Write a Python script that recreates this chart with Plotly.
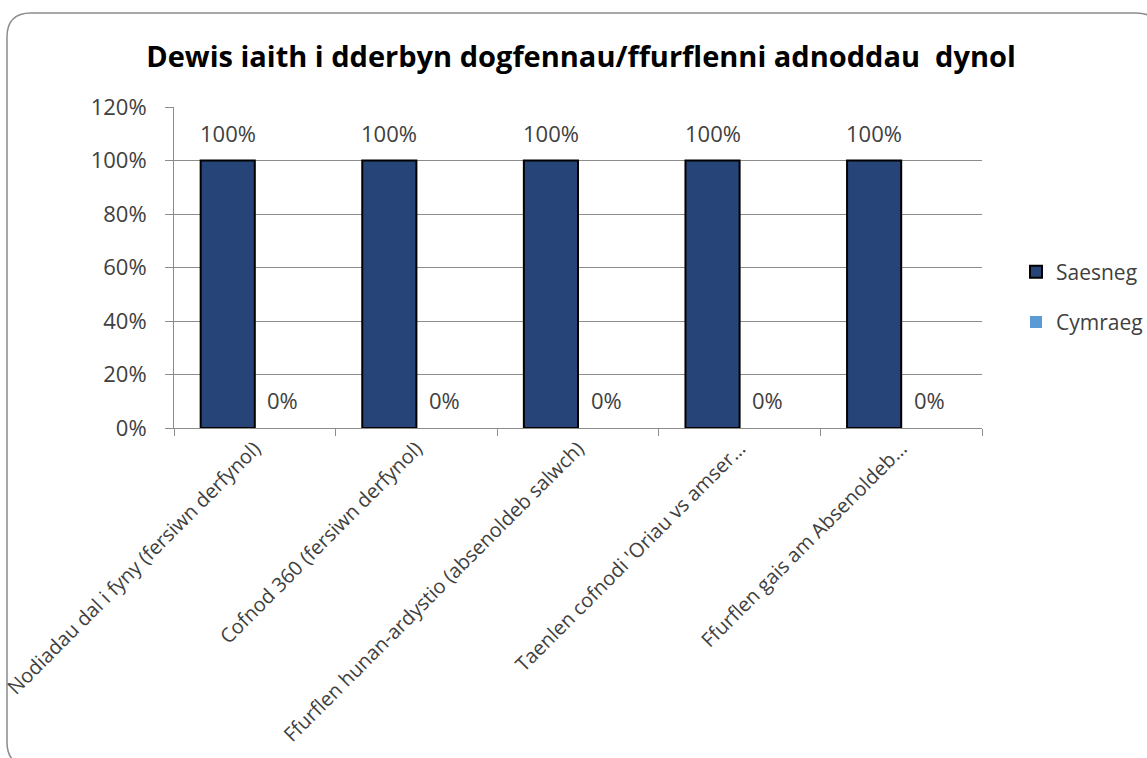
import plotly.graph_objects as go

categories = [
    "Nodiadau dal i fyny (fersiwn derfynol)",
    "Cofnod 360 (fersiwn derfynol)",
    "Ffurflen hunan-ardystio (absenoldeb salwch)",
    "Taenlen cofnodi 'Oriau vs amser…",
    "Ffurflen gais am Absenoldeb…",
]
saesneg = [1.0, 1.0, 1.0, 1.0, 1.0]
cymraeg = [0.0, 0.0, 0.0, 0.0, 0.0]
y_ticks = [0, 0.2, 0.4, 0.6, 0.8, 1.0, 1.2]
y_labels = ["0%", "20%", "40%", "60%", "80%", "100%", "120%"]

FONT = "Open Sans, Noto Sans, sans-serif"
TXT = "#404040"

fig = go.Figure()
fig.add_trace(go.Bar(
    name="Saesneg", x=categories, y=saesneg, legendgroup="s",
    marker=dict(color="#264478", line=dict(color="#000000", width=2)),
))
fig.add_trace(go.Bar(
    name="Cymraeg", x=categories, y=cymraeg, legendgroup="c",
    marker=dict(color="#5B9BD5", line=dict(width=0)),
))

# data labels placed above each bar via the axis scales
for vals, shift in ((saesneg, -27), (cymraeg, 28)):
    for c, v in zip(categories, vals):
        fig.add_annotation(x=c, y=v, xref="x", yref="y", text=f"{v:.0%}",
                           showarrow=False, xshift=shift, yshift=28,
                           xanchor="center", yanchor="middle",
                           font=dict(size=22, color=TXT, family=FONT))

# rounded outer border in paper coords
L, R, T, B = 174, 982, 107, 428
W, H = R - L, B - T
def px(x): return (x - L) / W
def py(y): return (B - y) / H
x0, x1, y0, y1, r = 7, 1160, 13, 766, 24
path = (f"M {px(x0+r)},{py(y0)} L {px(x1-r)},{py(y0)} Q {px(x1)},{py(y0)} {px(x1)},{py(y0+r)} "
        f"L {px(x1)},{py(y1-r)} Q {px(x1)},{py(y1)} {px(x1-r)},{py(y1)} "
        f"L {px(x0+r)},{py(y1)} Q {px(x0)},{py(y1)} {px(x0)},{py(y1-r)} "
        f"L {px(x0)},{py(y0+r)} Q {px(x0)},{py(y0)} {px(x0+r)},{py(y0)} Z")
fig.add_shape(type="path", path=path, xref="paper", yref="paper",
              line=dict(color="#8c8c8c", width=1.5), layer="below")

fig.update_layout(
    width=1147, height=758,
    margin=dict(l=L, r=1147 - R, t=T, b=758 - B, autoexpand=False),
    paper_bgcolor="white", plot_bgcolor="white",
    font=dict(family=FONT, color=TXT),
    title=dict(text="<b>Dewis iaith i dderbyn dogfennau/ffurflenni adnoddau  dynol</b>",
               x=581 / 1147, xanchor="center", y=1 - 57 / 758, yanchor="middle",
               font=dict(size=29, color="#000000", family=FONT)),
    barmode="group", bargap=0.33, bargroupgap=0,
    showlegend=True,
    legend=dict(x=px(1016), y=py(297), xanchor="left", yanchor="middle",
                font=dict(size=21, color=TXT), tracegroupgap=20,
                itemwidth=30),
    xaxis=dict(showline=True, linecolor="#8c8c8c", linewidth=1,
               ticks="outside", tickson="boundaries", ticklen=7, tickcolor="#8c8c8c",
               tickangle=-45, tickfont=dict(size=20, color=TXT)),
    yaxis=dict(range=[0, 1.2], tickvals=y_ticks, ticktext=y_labels,
               showgrid=True, gridcolor="#8c8c8c", gridwidth=1,
               showline=True, linecolor="#8c8c8c", linewidth=1,
               ticks="outside", ticklen=8, tickcolor="#8c8c8c",
               ticklabelstandoff=14,
               tickfont=dict(size=22, color=TXT), zeroline=False),
)

fig.write_html("out.html", config={"displayModeBar": False},
               post_script="document.body.style.margin='0';")
